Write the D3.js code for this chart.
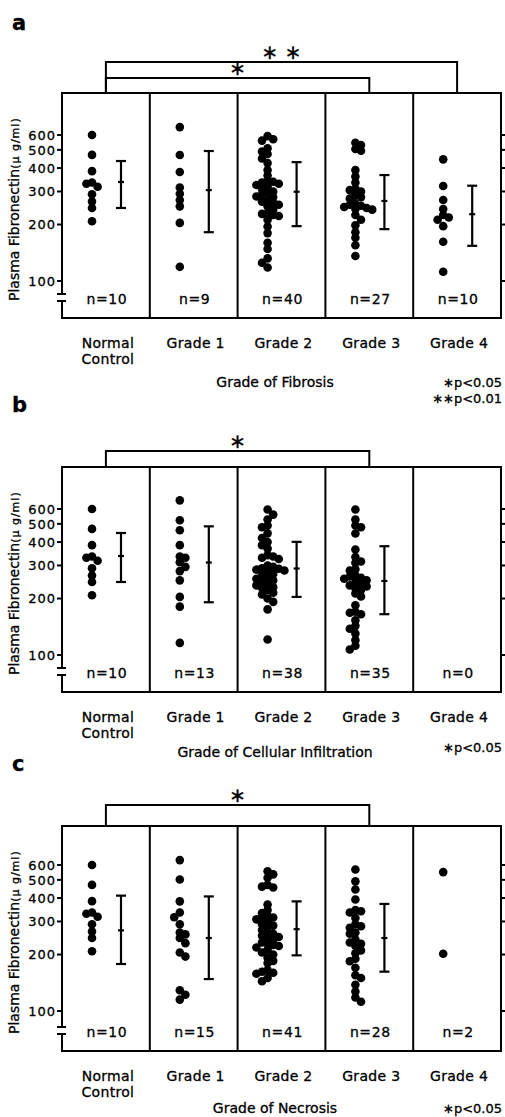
<!DOCTYPE html>
<html>
<head>
<meta charset="utf-8">
<script src="https://cdn.jsdelivr.net/npm/d3@7"></script>
<style>
  body { margin: 0; background: #fff; }
  text { font-family: "DejaVu Sans", sans-serif; fill: #000; stroke: #000; stroke-width: 0.3; }
</style>
</head>
<body>
<svg id="chart"></svg>
<script>
/* Plasma fibronectin by histological grade - three stacked dot plots (a, b, c).
   Log y axis, dots spread as a small beeswarm, mean +/- SD bar to the right. */

const categories = ["Normal Control", "Grade 1", "Grade 2", "Grade 3", "Grade 4"];
const yTicks = [100, 200, 300, 400, 500, 600];

const normalValues = [600, 470, 385, 335, 330, 318, 290, 265, 245, 208];

// ---- a: fibrosis ----
const fibrosisValues = [
  normalValues,
  [661, 469, 381, 315, 292, 270, 250, 204, 119],
  [592, 570, 560, 510, 490, 475, 450, 425, 390, 365, 340, 338, 335, 330, 325, 318, 310, 300, 298, 290,
   282, 280, 270, 265, 262, 255, 250, 240, 230, 228, 225, 222, 212, 195, 180, 160, 148, 132, 125, 118],
  [545, 530, 505, 495, 390, 360, 335, 310, 305, 300, 285, 280, 275, 258, 255, 252, 248, 245, 242, 240,
   225, 212, 198, 182, 170, 155, 136],
  [445, 321, 270, 242, 225, 218, 212, 196, 162, 112]
];
const fibrosisBars = [[245, 337, 436], [182, 305, 493], [196, 299, 430], [189, 267, 367], [154, 227, 322]];
const fibrosisN = [10, 9, 40, 27, 10];

// ---- b: cellular infiltration ----
const infiltrationValues = [
  normalValues,
  [667, 523, 462, 385, 335, 330, 312, 295, 280, 250, 204, 181, 116],
  [596, 560, 527, 490, 480, 445, 420, 400, 385, 369, 340, 335, 330, 325, 300, 295, 290, 288, 285, 282,
   278, 270, 265, 260, 255, 250, 245, 240, 235, 230, 228, 222, 215, 210, 200, 192, 175, 121],
  [596, 527, 490, 480, 444, 365, 333, 315, 310, 286, 282, 265, 262, 258, 255, 250, 245, 240, 235, 232,
   228, 222, 213, 205, 184, 170, 168, 165, 153, 143, 138, 130, 120, 112, 107],
  []
];
const infiltrationBars = [[245, 337, 447], [191, 311, 485], [204, 289, 401], [165, 248, 380], null];
const infiltrationN = [10, 13, 38, 35, 0];

// ---- c: necrosis ----
const necrosisValues = [
  normalValues,
  [637, 502, 384, 335, 316, 290, 262, 256, 245, 230, 205, 195, 129, 122, 115],
  [556, 535, 513, 470, 460, 455, 369, 345, 333, 320, 315, 312, 308, 300, 290, 285, 280, 270, 262, 258,
   252, 248, 245, 240, 232, 228, 225, 222, 218, 212, 205, 200, 192, 185, 180, 165, 162, 160, 158, 150, 144],
  [568, 491, 444, 393, 345, 340, 335, 313, 290, 283, 278, 262, 258, 240, 232, 228, 222, 210, 203, 190,
   184, 170, 155, 150, 138, 127, 118, 112],
  [550, 202]
];
const necrosisBars = [[178, 269, 412], [148, 245, 408], [198, 273, 384], [162, 245, 372], null];
const necrosisN = [10, 15, 41, 28, 2];

// significance brackets: [from category, to category, stars]
const fibrosisSig = [["Normal Control", "Grade 3", "∗"], ["Normal Control", "Grade 4", "∗ ∗"]];
const infiltrationSig = [["Normal Control", "Grade 3", "∗"]];
const necrosisSig = [["Normal Control", "Grade 3", "∗"]];

const panels = [
  { tag: "a", top: 93,  values: fibrosisValues, bars: fibrosisBars, n: fibrosisN, sig: fibrosisSig,
    sigY: [-15, -31], title: "Grade of Fibrosis", notes: ["∗p<0.05", "∗∗p<0.01"], titleDy: 294, y100: 188 },
  { tag: "b", top: 467, values: infiltrationValues, bars: infiltrationBars, n: infiltrationN, sig: infiltrationSig,
    sigY: [-16], title: "Grade of Cellular Infiltration", notes: ["∗p<0.05"], titleDy: 290, y100: 188 },
  { tag: "c", top: 826, values: necrosisValues, bars: necrosisBars, n: necrosisN, sig: necrosisSig,
    sigY: [-21], title: "Grade of Necrosis", notes: ["∗p<0.05"], titleDy: 287, y100: 185 }
];

const W = 505, H = 1117;
const svg = d3.select("#chart").attr("width", W).attr("height", H);
svg.append("rect").attr("width", W).attr("height", H).attr("fill", "#fff");

const x = d3.scaleBand().domain(categories).range([62, 501]);
const FRAME_H = 225, R = 4.3;

// greedy beeswarm: keep values on y, push colliding dots sideways
function swarm(vals, y, cx){
  const step = 5.6, minD = 5.2;
  const pts = vals.map(v => ({ v, y: y(v) })).sort((a, b) => a.y - b.y);
  const placed = [];
  pts.forEach((p, i) => {
    for (let k = 0; k < 40; k++){
      const side = (k + i) % 2 ? -1 : 1;
      const off = k === 0 ? 0 : side * Math.ceil(k / 2) * step;
      const px = cx + off;
      if (placed.every(q => Math.hypot(q.x - px, q.y - p.y) >= minD)){
        p.x = px; placed.push(p); break;
      }
    }
  });
  return placed;
}

function line(g, x1, y1, x2, y2, w){
  g.append("line").attr("x1", x1).attr("y1", y1).attr("x2", x2).attr("y2", y2)
    .attr("stroke", "#000").attr("stroke-width", w || 2);
}

panels.forEach(p => {
  const top = p.top, bottom = top + FRAME_H;
  const g = svg.append("g");
  const y = d3.scaleLog().domain([100, 600]).range([top + p.y100, top + p.y100 - 146]);

  // panel letter
  g.append("text").attr("x", 12).attr("y", top - (p.tag === "a" ? 63 : 55))
    .attr("font-size", 21).attr("font-weight", "bold").text(p.tag);

  // frame + dividers
  const x0 = x.range()[0], x1 = x.range()[1];
  line(g, x0 - 1, top, x1 + 1, top);
  line(g, x0 - 1, bottom, x1 + 1, bottom);
  line(g, x1, top, x1, bottom);
  categories.slice(1).forEach(c => line(g, x(c), top, x(c), bottom));

  // left axis with break
  const b1 = top + 201, b2 = top + 208;
  line(g, x0, top, x0, b1);
  line(g, x0, b2, x0, bottom);
  line(g, x0 - 5, b1, x0 + 4, b1);
  line(g, x0 - 5, b2, x0 + 4, b2);
  yTicks.forEach(t => {
    line(g, x0 - 5, y(t), x0, y(t));
    line(g, x1, y(t), x1 + 4, y(t));
    g.append("text").attr("x", 56).attr("y", y(t)).attr("dy", "0.36em")
      .attr("text-anchor", "end").attr("font-size", 13).attr("letter-spacing", 1).text(t);
  });

  // y label
  const lab = g.append("text")
    .attr("transform", `translate(19,${top + 208}) rotate(-90)`)
    .attr("font-size", 14).text("Plasma Fibronectin");
  lab.append("tspan").attr("font-size", 11).attr("letter-spacing", 1).text("(μ g/ml)");

  // dots + mean/SD bars
  categories.forEach((c, i) => {
    const cx = x(c) + 30;
    swarm(p.values[i], y, cx).forEach(d => {
      g.append("circle").attr("cx", d.x).attr("cy", d.y).attr("r", R).attr("fill", "#000");
    });
    const bar = p.bars[i];
    if (bar){
      const bx = x(c) + 59;
      line(g, bx, y(bar[0]), bx, y(bar[2]), 2.2);
      line(g, bx - 5, y(bar[0]), bx + 5, y(bar[0]), 2.2);
      line(g, bx - 5, y(bar[2]), bx + 5, y(bar[2]), 2.2);
      line(g, bx - 3, y(bar[1]), bx + 3, y(bar[1]), 2.2);
    }
    g.append("text").attr("x", x(c) + x.bandwidth() / 2 + 1).attr("y", top + 211)
      .attr("text-anchor", "middle").attr("font-size", 14).attr("letter-spacing", 0.6)
      .text("n=" + p.n[i]);

    // category labels below the frame
    const words = c === "Normal Control" ? ["Normal", "Control"] : [c];
    words.forEach((w, j) => {
      g.append("text").attr("x", x(c) + x.bandwidth() / 2 + 2).attr("y", top + 255 + j * 16)
        .attr("text-anchor", "middle").attr("font-size", 14).attr("letter-spacing", 0.3).text(w);
    });
  });

  // significance brackets
  p.sig.forEach((s, k) => {
    const xa = x(s[0]) + x.bandwidth() / 2, xb = x(s[1]) + x.bandwidth() / 2;
    const by = top + p.sigY[k];
    line(g, xa, by, xb, by);
    line(g, xa, by - 1, xa, top);
    line(g, xb, by - 1, xb, top);
    g.append("text").attr("x", (xa + xb) / 2).attr("y", by - 3)
      .attr("text-anchor", "middle").attr("font-size", 20).text(s[2]);
  });

  // axis title + p notes
  g.append("text").attr("x", 275).attr("y", top + p.titleDy)
    .attr("text-anchor", "middle").attr("font-size", 14).text(p.title);
  p.notes.forEach((n, j) => {
    g.append("text").attr("x", 502).attr("y", top + p.titleDy - (p.tag === "b" ? 5 : 0) + j * 16)
      .attr("text-anchor", "end").attr("font-size", 13).text(n);
  });
});
</script>
</body>
</html>
